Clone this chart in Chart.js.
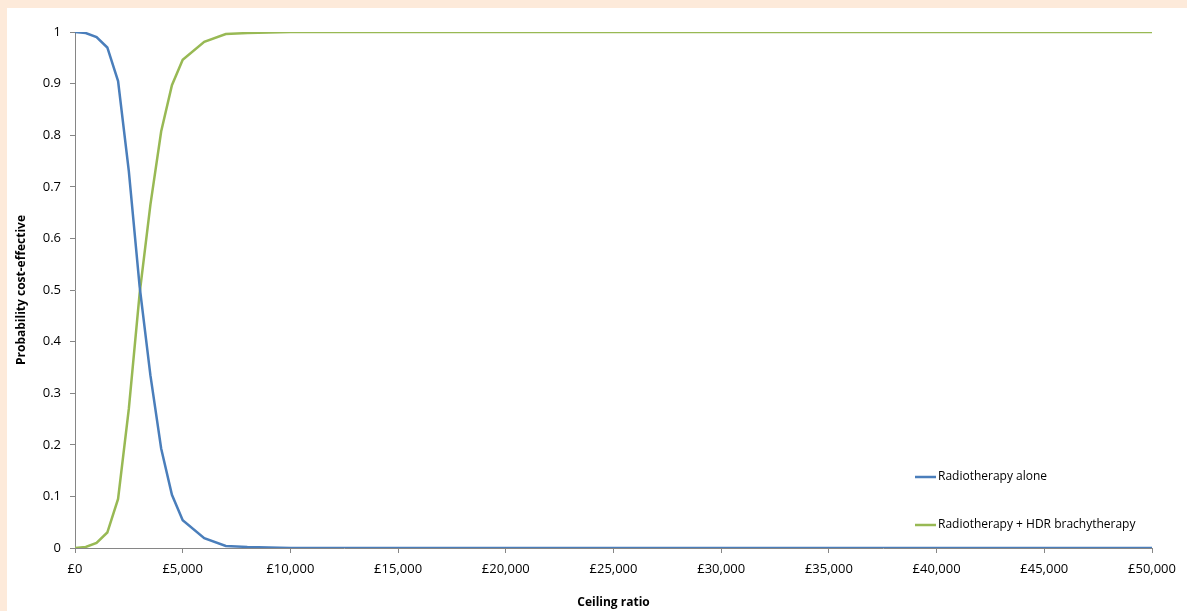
<!DOCTYPE html>
<html>
<head>
<meta charset="utf-8">
<script src="https://cdn.jsdelivr.net/npm/chart.js@4.4.0/dist/chart.umd.min.js"></script>
<style>
  html, body { margin: 0; padding: 0; }
  body { background: #fdeada; width: 1187px; height: 611px; overflow: hidden; position: relative; }
  #panel { position: absolute; left: 7px; top: 8px; width: 1180px; height: 603px; background: #ffffff; }
</style>
</head>
<body>
<div id="panel"><canvas id="ceac" width="1180" height="603"></canvas></div>
<script>
// Ceiling ratio (£) and probability each option is cost-effective
const ceilingRatio = [0, 500, 1000, 1500, 2000, 2500, 3000, 3500, 4000, 4500, 5000, 6000, 7000, 8000, 9000, 10000, 15000, 20000, 25000, 30000, 35000, 40000, 45000, 50000];
const rtAlone = [1.0, 0.998, 0.99, 0.97, 0.905, 0.73, 0.507, 0.335, 0.193, 0.103, 0.054, 0.019, 0.004, 0.002, 0.001, 0, 0, 0, 0, 0, 0, 0, 0, 0];
const rtHdr = [0.0, 0.002, 0.01, 0.03, 0.095, 0.27, 0.493, 0.665, 0.807, 0.897, 0.946, 0.981, 0.996, 0.998, 0.999, 1, 1, 1, 1, 1, 1, 1, 1, 1];
const seriesNames = ['Radiotherapy alone', 'Radiotherapy + HDR brachytherapy'];
const seriesColors = ['#4a7ebb', '#98b954'];

const fontFamily = "'Open Sans', 'Noto Sans', sans-serif";
const axisGrey = '#868686';

function toPoints(xs, ys) {
    return xs.map((x, i) => ({ x: x, y: ys[i] }));
}

// legend drawn inside the plot area, lower right
const insideLegend = {
    id: 'insideLegend',
    afterDraw(chart) {
        const ctx = chart.ctx;
        const rows = [469, 517];
        ctx.save();
        ctx.font = '12px ' + fontFamily;
        ctx.textBaseline = 'middle';
        chart.data.datasets.forEach((ds, i) => {
            const y = rows[i];
            ctx.strokeStyle = ds.borderColor;
            ctx.lineWidth = 2.5;
            ctx.beginPath();
            ctx.moveTo(908, y);
            ctx.lineTo(929, y);
            ctx.stroke();
            ctx.fillStyle = '#000000';
            ctx.fillText(ds.label, 931, y);
        });
        ctx.restore();
    }
};

new Chart(document.getElementById('ceac'), {
    type: 'line',
    data: {
        datasets: [
            { label: seriesNames[0], data: toPoints(ceilingRatio, rtAlone), borderColor: seriesColors[0], backgroundColor: seriesColors[0], borderWidth: 2.5, pointRadius: 0, tension: 0 },
            { label: seriesNames[1], data: toPoints(ceilingRatio, rtHdr), borderColor: seriesColors[1], backgroundColor: seriesColors[1], borderWidth: 2.5, pointRadius: 0, tension: 0 }
        ]
    },
    options: {
        responsive: false,
        animation: false,
        layout: { padding: { left: 0, right: 35, top: 24, bottom: 0 } },
        plugins: {
            legend: { display: false },
            tooltip: { enabled: false }
        },
        scales: {
            x: {
                type: 'linear',
                min: 0,
                max: 50000,
                ticks: {
                    stepSize: 5000,
                    color: '#000000',
                    font: { family: fontFamily, size: 13 },
                    padding: 8,
                    maxRotation: 0,
                    callback: v => '£' + v.toLocaleString('en-GB')
                },
                grid: { display: true, drawOnChartArea: false, color: axisGrey, tickLength: 5 },
                border: { color: axisGrey, width: 1 },
                title: {
                    display: true,
                    text: 'Ceiling ratio',
                    color: '#000000',
                    font: { family: fontFamily, size: 12, weight: 'bold' },
                    padding: { top: 4, bottom: 1 }
                },
                afterFit(scale) { scale.height = 63; }
            },
            y: {
                min: 0,
                max: 1,
                ticks: {
                    stepSize: 0.1,
                    color: '#000000',
                    font: { family: fontFamily, size: 13 },
                    padding: 9,
                    callback: v => String(Number(v.toFixed(1)))
                },
                grid: { display: true, drawOnChartArea: false, color: axisGrey, tickLength: 5 },
                border: { color: axisGrey, width: 1 },
                title: {
                    display: true,
                    text: 'Probability cost-effective',
                    color: '#000000',
                    font: { family: fontFamily, size: 12, weight: 'bold' },
                    padding: { top: 7, bottom: 4 }
                },
                afterFit(scale) { scale.width = 68; }
            }
        }
    },
    plugins: [insideLegend]
});
</script>
</body>
</html>
